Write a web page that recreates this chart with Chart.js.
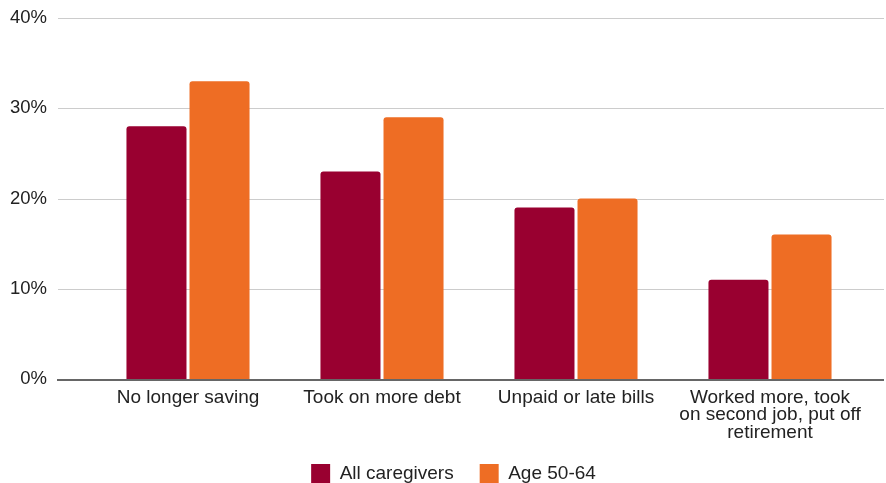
<!DOCTYPE html>
<html lang="en">
<head>
    <meta charset="UTF-8">
    <title>Financial impact of caregiving</title>
    <script src="https://cdn.jsdelivr.net/npm/chart.js"></script>
    <style>
        html, body { margin: 0; padding: 0; background: #ffffff; }
        #wrap { width: 886px; height: 483px; }
    </style>
</head>
<body>
    <div id="wrap"><canvas id="chart"></canvas></div>

    <script>
        // values
        const categories = [
            'No longer saving',
            'Took on more debt',
            'Unpaid or late bills',
            ['Worked more, took', 'on second job, put off', 'retirement']
        ];
        const allCaregivers = [28, 23, 19, 11];
        const age5064 = [33, 29, 20, 16];
        const yTicks = [0, 10, 20, 30, 40];

        const FONT = "'Liberation Sans', Arial, sans-serif";

        // legend sizing + gridlines that stick out past the plot area
        const wideGrid = {
            id: 'wideGrid',
            beforeLayout(chart) {
                const lg = chart.legend;
                if (lg && !lg._fixed) {
                    const fit = lg.fit;
                    lg.fit = function () { fit.call(this); this.height = 45; };
                    lg._fixed = true;
                }
            },
            afterLayout(chart) {
                // legend sits a bit right of the canvas centre
                chart.legend.left += 20;
                chart.legend.right += 20;
            },
            beforeDatasetsDraw(chart) {
                const { ctx, chartArea, scales } = chart;
                ctx.save();
                yTicks.forEach(v => {
                    if (v === 0) return;
                    const y = Math.round(scales.y.getPixelForValue(v)) + 0.5;
                    ctx.beginPath();
                    ctx.strokeStyle = '#cccccc';
                    ctx.lineWidth = 1;
                    ctx.moveTo(chartArea.left - 33, y);
                    ctx.lineTo(chartArea.right + 17, y);
                    ctx.stroke();
                });
                ctx.restore();
            },
            afterDatasetsDraw(chart) {
                const { ctx, chartArea, scales } = chart;
                const y = scales.y.getPixelForValue(0) + 1;
                ctx.save();
                ctx.beginPath();
                ctx.strokeStyle = '#666666';
                ctx.lineWidth = 2;
                ctx.moveTo(chartArea.left - 34, y);
                ctx.lineTo(chartArea.right + 17, y);
                ctx.stroke();
                ctx.restore();
            }
        };

        new Chart(document.getElementById('chart'), {
            type: 'bar',
            data: {
                labels: categories,
                datasets: [
                    {
                        label: 'All caregivers',
                        data: allCaregivers,
                        backgroundColor: '#990030',
                        borderRadius: { topLeft: 3, topRight: 3 },
                        borderSkipped: 'bottom'
                    },
                    {
                        label: 'Age 50-64',
                        data: age5064,
                        backgroundColor: '#ee6d24',
                        borderRadius: { topLeft: 3, topRight: 3 },
                        borderSkipped: 'bottom'
                    }
                ]
            },
            options: {
                animation: false,
                responsive: true,
                maintainAspectRatio: false,
                layout: { padding: { top: 18, right: 19, bottom: 0, left: 0 } },
                datasets: {
                    bar: { categoryPercentage: 0.65, barPercentage: 0.952 }
                },
                plugins: {
                    legend: {
                        position: 'bottom',
                        labels: {
                            boxWidth: 19,
                            boxHeight: 19,
                            padding: 26,
                            color: '#222222',
                            font: { family: FONT, size: 19 }
                        }
                    },
                    tooltip: { enabled: false }
                },
                scales: {
                    x: {
                        grid: { display: false, drawTicks: false },
                        border: { display: false },
                        ticks: {
                            color: '#222222',
                            padding: 10,
                            maxRotation: 0,
                            autoSkip: false,
                            font: { family: FONT, size: 19, lineHeight: 0.92 }
                        },
                        afterFit(scale) {
                            scale.height = 59;
                            scale.paddingLeft = 0;
                            scale.paddingRight = 0;
                        }
                    },
                    y: {
                        min: 0,
                        max: 40,
                        grid: { display: false, drawTicks: false },
                        border: { display: false },
                        afterBuildTicks(scale) {
                            scale.ticks = yTicks.map(v => ({ value: v }));
                        },
                        ticks: {
                            color: '#222222',
                            padding: 44,
                            font: { family: FONT, size: 18.5 },
                            callback: v => v + '%'
                        },
                        afterFit(scale) {
                            scale.width = 91;
                            scale.paddingTop = 0;
                            scale.paddingBottom = 0;
                        }
                    }
                }
            },
            plugins: [wideGrid]
        });
    </script>
</body>
</html>
